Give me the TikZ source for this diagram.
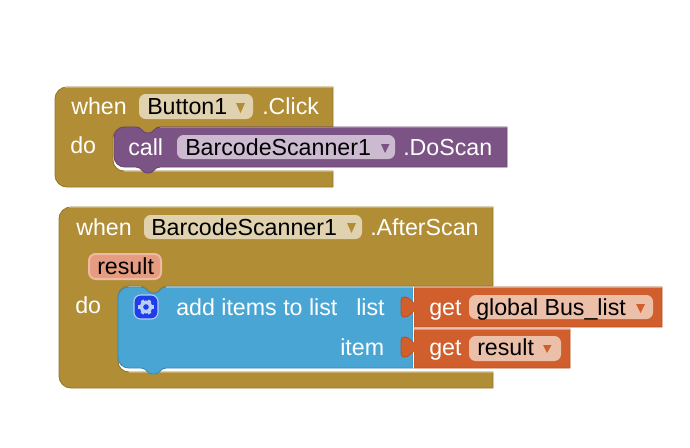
\documentclass[tikz,border=0pt]{standalone}
\usepackage{xcolor}
\usepackage{fontspec}
\setmainfont{Liberation Sans}
\definecolor{goldblock}{HTML}{B18E35}
\definecolor{goldedge}{HTML}{97782B}
\definecolor{goldlight}{HTML}{C8AD6C}
\definecolor{goldfield}{HTML}{E0D2AE}
\definecolor{purpleblock}{HTML}{7C5385}
\definecolor{purpleedge}{HTML}{6A4672}
\definecolor{purplelight}{HTML}{9A7CA2}
\definecolor{purplefield}{HTML}{CBBAD0}
\definecolor{blueblock}{HTML}{49A6D4}
\definecolor{blueedge}{HTML}{3A8AB2}
\definecolor{bluelight}{HTML}{7DC0E2}
\definecolor{orangeblock}{HTML}{D05F2D}
\definecolor{orangeedge}{HTML}{B85226}
\definecolor{orangelight}{HTML}{E39A78}
\definecolor{orangefield}{HTML}{ECBFA9}
\definecolor{resultfill}{HTML}{E59C80}
\definecolor{resultedge}{HTML}{EFB9A3}
\definecolor{gearbox}{HTML}{1D3FEA}
\definecolor{gearwheel}{HTML}{B9CDF7}

\begin{document}
\begin{tikzpicture}[
				x = .75pt,
				y = -.75pt,
				every node/.style = {inner sep = 0pt, anchor = base west, font = \fontsize{17.4}{20}\selectfont},
				lbl/.style = {white},
				fieldlbl/.style = {black},
				fieldbox/.style = {rounded corners = 5pt},
				blockedge/.style = {line width = .7pt}
			]
			\useasboundingbox (0,0) rectangle (690,447);

			% first event block
			\filldraw[goldblock,draw=goldedge,blockedge] (55,130) [rounded corners=9pt] -- (55,87) [sharp corners] -- (333,87) -- (333,127) -- (160,127) .. controls (154,127) and (154,133) .. (149,133) -- (147,133) .. controls (142,133) and (142,127) .. (136,127) [rounded corners=8pt] -- (113,127) -- (113,171) [sharp corners] -- (333,171) -- (333,187) [rounded corners=9pt] -- (55,187) -- cycle;
			\draw[goldlight,blockedge] (65,87) -- (333,87);
			\draw[goldlight,blockedge] (124,171) -- (333,171);

			\filldraw[purpleblock,draw=purpleedge,blockedge] (114,145) [rounded corners=8pt] -- (114,127) [sharp corners] -- (136,127) .. controls (142,127) and (142,133) .. (147,133) -- (149,133) .. controls (154,133) and (154,127) .. (160,127) -- (507,127) -- (507,167) -- (160,167) .. controls (154,167) and (154,173) .. (149,173) -- (147,173) .. controls (142,173) and (142,167) .. (136,167) [rounded corners=8pt] -- (114,167) -- cycle;
			\draw[purplelight,blockedge] (160,127) -- (507,127);

			\node[lbl] (when1) at (71,114) {when};
			\fill[goldfield,fieldbox] (139,94) rectangle (253,119);
			\node[fieldlbl] (button) at (147,114) {Button1};
			\fill[goldblock] (236,103) -- (245,103) -- (240.5,113) -- cycle;
			\node[lbl] (click) at (262,114) {.Click};
			\node[lbl] (do1) at (70,153) {do};
			\node[lbl] (call) at (128,155) {call};
			\fill[purplefield,fieldbox] (177,135) rectangle (395,159);
			\node[fieldlbl] (scanner1) at (185,155) {BarcodeScanner1};
			\fill[purpleblock] (381,144) -- (389.5,144) -- (385,153) -- cycle;
			\node[lbl] (doscan) at (403,155) {.DoScan};

			% second event block
			\filldraw[goldblock,draw=goldedge,blockedge] (59,250) [rounded corners=9pt] -- (59,207) [sharp corners] -- (493,207) -- (493,286) -- (166,286) .. controls (160,286) and (160,293) .. (155,293) -- (152,293) .. controls (147,293) and (147,286) .. (141,286) [rounded corners=8pt] -- (118,286) -- (118,372) [sharp corners] -- (493,372) -- (493,388) [rounded corners=9pt] -- (59,388) -- cycle;
			\draw[goldlight,blockedge] (69,207) -- (493,207);
			\draw[goldlight,blockedge] (129,372) -- (493,372);

			\filldraw[blueblock,draw=blueedge,blockedge] (118,320) [rounded corners=8pt] -- (118,287) [sharp corners] -- (141,287) .. controls (147,287) and (147,293) .. (152,293) -- (155,293) .. controls (160,293) and (160,287) .. (166,287) -- (413,287) -- (413,368) -- (166,368) .. controls (160,368) and (160,374) .. (155,374) -- (152,374) .. controls (147,374) and (147,368) .. (141,368) [rounded corners=8pt] -- (118,368) -- cycle;
			\draw[bluelight,blockedge] (166,287) -- (413,287);

			% value blocks plugged into the list sockets
			\filldraw[orangeblock,draw=orangeedge,blockedge] (414,287) -- (662,287) -- (662,327) -- (414,327) -- (414,312) .. controls (410,312) and (410,317) .. (405,317) -- (404,317) .. controls (401,317) and (401,314) .. (401,310) -- (401,304) .. controls (401,300) and (401,297) .. (404,297) -- (405,297) .. controls (410,297) and (410,302) .. (414,302) -- cycle;
			\filldraw[orangeblock,draw=orangeedge,blockedge] (414,329) -- (570,329) -- (570,368) -- (414,368) -- (414,352) .. controls (410,352) and (410,357) .. (405,357) -- (404,357) .. controls (401,357) and (401,354) .. (401,350) -- (401,344) .. controls (401,340) and (401,337) .. (404,337) -- (405,337) .. controls (410,337) and (410,342) .. (414,342) -- cycle;
			\draw[orangelight,blockedge] (414,287.5) -- (662,287.5);
			\draw[orangelight,blockedge] (414,329.5) -- (570,329.5);
			\draw[white,blockedge] (413.5,287) -- (413.5,302);
			\draw[white,blockedge] (413.5,312) -- (413.5,342);
			\draw[white,blockedge] (413.5,352) -- (413.5,368);

			\node[lbl] (when2) at (76,235) {when};
			\fill[goldfield,fieldbox] (144,215) rectangle (362,239);
			\node[fieldlbl] (scanner2) at (151,235) {BarcodeScanner1};
			\fill[goldblock] (347,223) -- (356,223) -- (351.5,233) -- cycle;
			\node[lbl] (afterscan) at (370,235) {.AfterScan};

			\filldraw[resultfill,draw=resultedge,line width=1.5pt,fieldbox] (89,254) rectangle (161,279);
			\node[fieldlbl] (param) at (97,274) {result};
			\node[lbl] (do2) at (75,313) {do};

			% mutator button with its gear
			\filldraw[gearbox,draw=gearwheel,line width=.8pt,fieldbox] (134,295) rectangle (158,319);
			\draw[gearwheel,line width=2.6pt] (146,307) circle (3.6pt);
			\foreach \a in {0,60,...,300}
				\draw[gearwheel,line width=2.4pt] (146,307) ++(\a:3.6pt) -- ++(\a:2.2pt);

			\node[lbl] (additems) at (176,315) {add items to list};
			\node[lbl] (list) at (356,315) {list};
			\node[lbl] (item) at (340,355) {item};

			\node[lbl] (get1) at (429,315) {get};
			\fill[orangefield,fieldbox] (469,295) rectangle (653,319);
			\node[fieldlbl] (buslist) at (476,315) {global Bus\_list};
			\fill[orangeblock] (636,304) -- (645,304) -- (640.5,313) -- cycle;

			\node[lbl] (get2) at (429,355) {get};
			\fill[orangefield,fieldbox] (469,336) rectangle (561,361);
			\node[fieldlbl] (resultvar) at (477,355) {result};
			\fill[orangeblock] (543,345) -- (551.5,345) -- (547,353) -- cycle;
			\end{tikzpicture}
\end{document}
